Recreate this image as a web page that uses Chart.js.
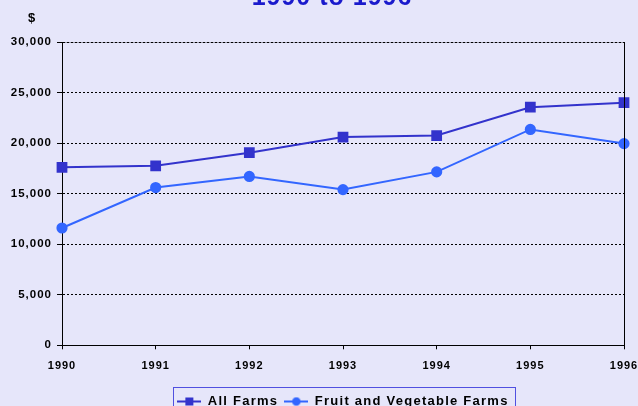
<!DOCTYPE html>
<html>
<head>
<meta charset="utf-8">
<script src="https://cdn.jsdelivr.net/npm/chart.js@4"></script>
<style>
  html, body { margin: 0; padding: 0; background: #E6E6FA; overflow: hidden; width: 638px; height: 406px; }
  #wrap { position: absolute; left: 0; top: -20px; width: 638px; height: 450px; }
</style>
</head>
<body>
<div id="wrap"><canvas id="c" width="638" height="450"></canvas></div>
<script>
const years = ['1990', '1991', '1992', '1993', '1994', '1995', '1996'];
const allFarms = [17600, 17750, 19050, 20600, 20750, 23550, 24000];
const fruitVegFarms = [11600, 15600, 16700, 15400, 17150, 21350, 19950];
const seriesNames = ['All Farms', 'Fruit and Vegetable Farms'];
const titleText = '1990 to 1996';
const yUnit = '$';

const FONT = "'Liberation Sans', Arial, sans-serif";
const C1 = '#3333CC';
const C2 = '#3366FF';

function legendIcon(color, style) {
  const cv = document.createElement('canvas');
  cv.width = 24; cv.height = 10;
  const g = cv.getContext('2d');
  g.strokeStyle = color; g.lineWidth = 2;
  g.beginPath(); g.moveTo(0, 5); g.lineTo(24, 5); g.stroke();
  g.fillStyle = color;
  if (style === 'rect') { g.fillRect(8, 1, 8, 8); }
  else { g.beginPath(); g.arc(12, 5, 4.3, 0, Math.PI * 2); g.fill(); }
  return cv;
}
const icons = [legendIcon(C1, 'rect'), legendIcon(C2, 'circle')];

const spacingPlugin = {
  id: 'spacing',
  beforeUpdate(chart) { chart.ctx.letterSpacing = '1px'; },
  beforeLayout(chart) { chart.ctx.letterSpacing = '1px'; },
  beforeDraw(chart) {
    chart.ctx.letterSpacing = '1px';
    const ctx = chart.ctx, a = chart.chartArea;
    ctx.save();
    ctx.strokeStyle = '#9A9AAA';
    ctx.lineWidth = 1;
    ctx.beginPath();
    ctx.moveTo(a.left, a.top + 0.5);
    ctx.lineTo(a.right, a.top + 0.5);
    ctx.stroke();
    ctx.restore();
  }
};

const extrasPlugin = {
  id: 'extras',
  afterDraw(chart) {
    const ctx = chart.ctx;
    const a = chart.chartArea;
    ctx.save();
    ctx.strokeStyle = '#000';
    ctx.lineWidth = 1;
    ctx.beginPath();
    ctx.moveTo(a.right + 0.5, a.top);
    ctx.lineTo(a.right + 0.5, a.bottom);
    ctx.stroke();
    ctx.fillStyle = '#000';
    ctx.font = 'bold 13px ' + FONT;
    ctx.textAlign = 'center';
    ctx.textBaseline = 'middle';
    ctx.fillText(yUnit, a.left - 30, a.top - 24);
    const hb = chart.legend.legendHitBoxes;
    if (hb && hb.length) {
      const first = hb[0], last = hb[hb.length - 1];
      const x0 = first.left - 4, x1 = last.left + last.width + 7;
      const y0 = first.top - 8.5;
      ctx.strokeStyle = '#5050E0';
      ctx.lineWidth = 1;
      ctx.strokeRect(Math.round(x0) + 0.5, Math.round(y0) + 0.5, Math.round(x1 - x0), 40);
    }
    ctx.restore();
  }
};

const chart = new Chart(document.getElementById('c'), {
  type: 'line',
  data: {
    labels: years,
    datasets: [
      {
        label: seriesNames[0], data: allFarms,
        borderColor: C1, backgroundColor: C1, borderWidth: 2,
        pointStyle: 'rect', pointRadius: 6.2, pointHoverRadius: 6.2, tension: 0
      },
      {
        label: seriesNames[1], data: fruitVegFarms,
        borderColor: C2, backgroundColor: C2, borderWidth: 2,
        pointStyle: 'circle', pointRadius: 4.6, pointHoverRadius: 4.6, tension: 0
      }
    ]
  },
  options: {
    responsive: false,
    animation: false,
    layout: { padding: { left: 10, right: -16, top: 0, bottom: 12 } },
    plugins: {
      tooltip: { enabled: false },
      title: {
        display: true, text: titleText, color: '#1A1ACC',
        font: { family: FONT, size: 25, weight: 'bold', lineHeight: 1.2 },
        padding: { top: 3, bottom: 29 }
      },
      legend: {
        position: 'bottom', fullSize: false,
        labels: {
          color: '#000',
          font: { family: FONT, size: 13, weight: 'bold' },
          usePointStyle: true, pointStyleWidth: 24, padding: 6,
          generateLabels(chart) {
            return chart.data.datasets.map((ds, i) => ({
              text: ds.label, pointStyle: icons[i], datasetIndex: i,
              fillStyle: ds.borderColor, strokeStyle: ds.borderColor, lineWidth: 0, hidden: false
            }));
          }
        }
      }
    },
    scales: {
      x: {
        offset: false,
        afterFit(s) { s.paddingLeft = 0; s.paddingRight = 14; s.height += 5.5; },
        grid: {
          display: true, drawOnChartArea: true, drawTicks: true, tickLength: 4,
          color: 'rgba(0,0,0,0)', tickColor: '#000', tickWidth: 1
        },
        border: { display: true, color: '#000', width: 1 },
        ticks: {
          color: '#000', font: { family: FONT, size: 11, weight: 'bold' },
          padding: 10.5, maxRotation: 0, autoSkip: false
        }
      },
      y: {
        min: 0, max: 30000,
        afterFit(s) { s.width = 52; },
        grid: {
          color: '#000', lineWidth: 1, drawTicks: true, tickLength: 5,
          tickColor: '#000', tickWidth: 1, tickBorderDash: []
        },
        border: { display: true, color: '#000', width: 1, dash: [2, 2] },
        ticks: {
          stepSize: 5000, color: '#000', padding: 5,
          font: { family: FONT, size: 11.5, weight: 'bold' },
          callback: v => v.toLocaleString('en-US')
        }
      }
    }
  },
  plugins: [spacingPlugin, extrasPlugin]
});

// wider letter spacing for the legend text only
(function () {
  const lg = chart.legend;
  if (!lg) return;
  const wrap = (name) => {
    const orig = lg[name];
    lg[name] = function () {
      const ctx = chart.ctx;
      ctx.letterSpacing = '1.25px';
      const r = orig.apply(this, arguments);
      ctx.letterSpacing = '1px';
      return r;
    };
  };
  wrap('fit');
  wrap('draw');
  chart.update();
})();
</script>
</body>
</html>
